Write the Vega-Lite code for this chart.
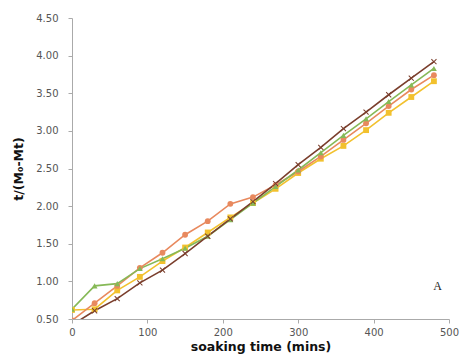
{
  "$schema": "https://vega.github.io/schema/vega-lite/v6.json",
  "width": 377,
  "height": 301,
  "autosize": "none",
  "padding": {"left": 72, "top": 18, "right": 12, "bottom": 35},
  "background": "white",
  "config": {"view": {"stroke": null}, "font": "DejaVu Sans", "axis": {"labelOverlap": false, "labelBound": false, "labelFlush": false}},
  "datasets": {
    "series": [
      {"t": 0, "v": 0.62, "s": "Y"}, {"t": 30, "v": 0.63, "s": "Y"}, {"t": 60, "v": 0.88, "s": "Y"}, {"t": 90, "v": 1.06, "s": "Y"}, {"t": 120, "v": 1.27, "s": "Y"}, {"t": 150, "v": 1.45, "s": "Y"}, {"t": 180, "v": 1.65, "s": "Y"}, {"t": 210, "v": 1.85, "s": "Y"}, {"t": 240, "v": 2.04, "s": "Y"}, {"t": 270, "v": 2.23, "s": "Y"}, {"t": 300, "v": 2.44, "s": "Y"}, {"t": 330, "v": 2.63, "s": "Y"}, {"t": 360, "v": 2.8, "s": "Y"}, {"t": 390, "v": 3.01, "s": "Y"}, {"t": 420, "v": 3.24, "s": "Y"}, {"t": 450, "v": 3.45, "s": "Y"}, {"t": 480, "v": 3.66, "s": "Y"},
      {"t": 0, "v": 0.48, "s": "O"}, {"t": 30, "v": 0.71, "s": "O"}, {"t": 60, "v": 0.94, "s": "O"}, {"t": 90, "v": 1.18, "s": "O"}, {"t": 120, "v": 1.38, "s": "O"}, {"t": 150, "v": 1.62, "s": "O"}, {"t": 180, "v": 1.8, "s": "O"}, {"t": 210, "v": 2.03, "s": "O"}, {"t": 240, "v": 2.12, "s": "O"}, {"t": 270, "v": 2.28, "s": "O"}, {"t": 300, "v": 2.46, "s": "O"}, {"t": 330, "v": 2.66, "s": "O"}, {"t": 360, "v": 2.88, "s": "O"}, {"t": 390, "v": 3.1, "s": "O"}, {"t": 420, "v": 3.33, "s": "O"}, {"t": 450, "v": 3.55, "s": "O"}, {"t": 480, "v": 3.74, "s": "O"},
      {"t": 0, "v": 0.63, "s": "G"}, {"t": 30, "v": 0.94, "s": "G"}, {"t": 60, "v": 0.97, "s": "G"}, {"t": 90, "v": 1.17, "s": "G"}, {"t": 120, "v": 1.3, "s": "G"}, {"t": 150, "v": 1.44, "s": "G"}, {"t": 180, "v": 1.6, "s": "G"}, {"t": 210, "v": 1.82, "s": "G"}, {"t": 240, "v": 2.04, "s": "G"}, {"t": 270, "v": 2.26, "s": "G"}, {"t": 300, "v": 2.48, "s": "G"}, {"t": 330, "v": 2.71, "s": "G"}, {"t": 360, "v": 2.94, "s": "G"}, {"t": 390, "v": 3.16, "s": "G"}, {"t": 420, "v": 3.39, "s": "G"}, {"t": 450, "v": 3.61, "s": "G"}, {"t": 480, "v": 3.83, "s": "G"},
      {"t": 0, "v": 0.42, "s": "B"}, {"t": 30, "v": 0.61, "s": "B"}, {"t": 60, "v": 0.77, "s": "B"}, {"t": 90, "v": 0.98, "s": "B"}, {"t": 120, "v": 1.15, "s": "B"}, {"t": 150, "v": 1.37, "s": "B"}, {"t": 180, "v": 1.6, "s": "B"}, {"t": 210, "v": 1.83, "s": "B"}, {"t": 240, "v": 2.06, "s": "B"}, {"t": 270, "v": 2.3, "s": "B"}, {"t": 300, "v": 2.55, "s": "B"}, {"t": 330, "v": 2.78, "s": "B"}, {"t": 360, "v": 3.03, "s": "B"}, {"t": 390, "v": 3.25, "s": "B"}, {"t": 420, "v": 3.48, "s": "B"}, {"t": 450, "v": 3.7, "s": "B"}, {"t": 480, "v": 3.92, "s": "B"}
    ],
    "label": [{"t": 485, "v": 0.94, "text": "A"}]
  },
  "layer": [
    {
      "data": {"name": "series"},
      "mark": {"type": "line", "clip": true, "strokeWidth": 1.6},
      "encoding": {
        "x": {"field": "t", "type": "quantitative", "scale": {"domain": [0, 500], "nice": false},
          "axis": {"values": [0, 100, 200, 300, 400, 500], "title": "soaking time (mins)", "grid": false, "domainColor": "#aaaaaa", "tickColor": "#aaaaaa", "tickSize": 4, "labelColor": "#555555", "labelFontSize": 10, "labelPadding": 4, "titleFontSize": 12.5, "titleFontWeight": "bold", "titleColor": "#111111", "titlePadding": 3}},
        "y": {"field": "v", "type": "quantitative", "scale": {"domain": [0.5, 4.5], "nice": false, "zero": false},
          "axis": {"values": [0.5, 1.0, 1.5, 2.0, 2.5, 3.0, 3.5, 4.0, 4.5], "tickCount": 9, "format": ".2f", "title": "t/(M₀-Mt)", "grid": false, "domainColor": "#aaaaaa", "tickColor": "#aaaaaa", "tickSize": 4, "labelColor": "#555555", "labelFontSize": 10, "labelPadding": 10, "titleFontSize": 12.5, "titleFontWeight": "bold", "titleColor": "#111111", "titlePadding": 10}},
        "color": {"field": "s", "type": "nominal", "scale": {"domain": ["Y", "O", "G", "B"], "range": ["#f2c12e", "#e8895e", "#86b957", "#7a3e2c"]}, "legend": null},
        "order": {"field": "t"}
      }
    },
    {
      "data": {"name": "series"},
      "mark": {"type": "point", "filled": true, "clip": true, "size": 34, "opacity": 1},
      "encoding": {
        "x": {"field": "t", "type": "quantitative"},
        "y": {"field": "v", "type": "quantitative"},
        "color": {"field": "s", "type": "nominal", "legend": null},
        "shape": {"field": "s", "type": "nominal", "scale": {"domain": ["Y", "O", "G", "B"], "range": ["square", "circle", "triangle-up", "M-1,-0.75L-0.75,-1L0,-0.25L0.75,-1L1,-0.75L0.25,0L1,0.75L0.75,1L0,0.25L-0.75,1L-1,0.75L-0.25,0Z"]}, "legend": null}
      }
    },
    {
      "data": {"name": "label"},
      "mark": {"type": "text", "font": "Liberation Serif", "fontSize": 12, "color": "#222222"},
      "encoding": {
        "x": {"field": "t", "type": "quantitative"},
        "y": {"field": "v", "type": "quantitative"},
        "text": {"field": "text"}
      }
    }
  ]
}
